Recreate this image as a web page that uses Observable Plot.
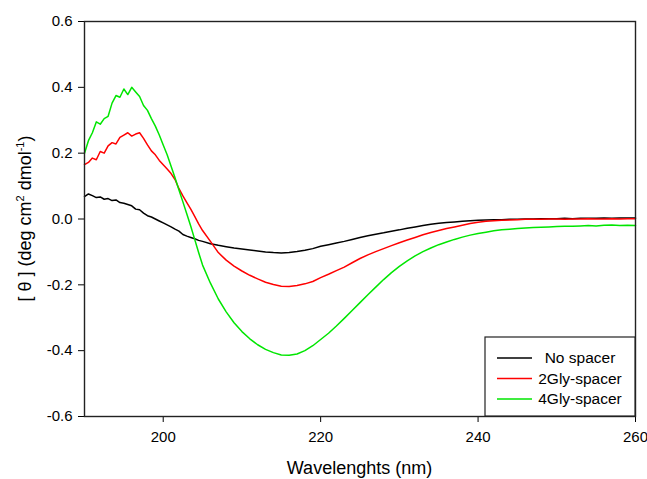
<!DOCTYPE html>
<html><head><meta charset="utf-8">
<script src="https://cdn.jsdelivr.net/npm/d3@7"></script>
<script src="https://cdn.jsdelivr.net/npm/@observablehq/plot@0.6"></script>
<style>body{margin:0;background:#fff;} svg{display:block}</style>
</head><body><div id="chart"></div>
<script>
const wavelengths = [190,190.5,191,191.5,192,192.5,193,193.5,194,194.5,195,195.5,196,196.5,197,197.5,198,198.5,199,199.5,200,200.5,201,201.5,202,202.5,203,203.5,204,204.5,205,
206,207,208,209,210,211,212,213,214,215,216,217,218,219,220,221,222,223,224,225,226,227,228,229,230,231,232,233,234,235,236,237,238,239,240,241,242,243,244,245,246,247,248,249,250,251,252,253,254,255,256,257,258,259,260];
const noSpacer = [0.068,0.076,0.071,0.065,0.067,0.060,0.062,0.056,0.058,0.050,0.048,0.044,0.040,0.030,0.028,0.018,0.010,0.006,0.000,-0.006,-0.012,-0.018,-0.024,-0.031,-0.037,-0.047,-0.052,-0.056,-0.060,-0.065,-0.068,
-0.075,-0.080,-0.084,-0.088,-0.091,-0.094,-0.097,-0.100,-0.102,-0.103,-0.102,-0.099,-0.095,-0.090,-0.083,-0.078,-0.073,-0.068,-0.062,-0.056,-0.051,-0.046,-0.042,-0.037,-0.033,-0.028,-0.024,-0.020,-0.016,-0.013,-0.011,-0.009,-0.007,-0.005,-0.004,-0.003,-0.002,-0.002,-0.001,-0.001,0.000,0.000,0.001,0.001,0.001,0.002,0.001,0.002,0.002,0.002,0.003,0.002,0.003,0.003,0.003];
const gly2 = [0.165,0.172,0.185,0.180,0.205,0.200,0.222,0.232,0.228,0.248,0.255,0.262,0.252,0.258,0.262,0.245,0.225,0.207,0.195,0.178,0.165,0.152,0.138,0.120,0.092,0.070,0.050,0.030,0.008,-0.015,-0.035,
-0.068,-0.102,-0.125,-0.143,-0.158,-0.171,-0.182,-0.192,-0.199,-0.204,-0.205,-0.202,-0.197,-0.190,-0.178,-0.168,-0.157,-0.146,-0.133,-0.120,-0.109,-0.099,-0.090,-0.081,-0.072,-0.064,-0.056,-0.048,-0.041,-0.035,-0.029,-0.024,-0.019,-0.014,-0.010,-0.007,-0.005,-0.004,-0.003,-0.002,-0.001,-0.001,-0.001,0.000,0.000,-0.001,0.000,0.000,0.001,0.000,0.000,0.001,0.000,0.001,0.001];
const gly4 = [0.200,0.238,0.262,0.295,0.288,0.305,0.312,0.352,0.375,0.370,0.395,0.378,0.400,0.386,0.372,0.345,0.330,0.305,0.282,0.255,0.225,0.195,0.160,0.125,0.088,0.052,0.015,-0.022,-0.062,-0.102,-0.140,
-0.195,-0.243,-0.282,-0.315,-0.342,-0.364,-0.382,-0.396,-0.406,-0.413,-0.414,-0.410,-0.400,-0.385,-0.366,-0.347,-0.325,-0.302,-0.278,-0.254,-0.230,-0.207,-0.184,-0.163,-0.144,-0.127,-0.112,-0.099,-0.088,-0.078,-0.070,-0.062,-0.055,-0.049,-0.044,-0.040,-0.036,-0.033,-0.031,-0.029,-0.027,-0.026,-0.025,-0.024,-0.023,-0.022,-0.022,-0.021,-0.020,-0.021,-0.019,-0.018,-0.020,-0.019,-0.020];
const seriesNames = ["No spacer", "2Gly-spacer", "4Gly-spacer"];
const seriesColors = ["#000000", "#ff0000", "#00e600"];
const xTicks = [200, 220, 240, 260];
const yTicks = [-0.6, -0.4, -0.2, 0, 0.2, 0.4, 0.6];
const xTitle = "Wavelenghts (nm)";

const seriesValues = [noSpacer, gly2, gly4];
const rows = seriesNames.flatMap((name, i) => wavelengths.map((w, j) => ({w, v: seriesValues[i][j], s: name})));

const W = 647, H = 479, mL = 84, mR = 12, mT = 21, mB = 63;
const plot = Plot.plot({
  width: W, height: H, marginLeft: mL, marginRight: mR, marginTop: mT, marginBottom: mB,
  style: {fontFamily: "'Liberation Sans', Arial, sans-serif", fontSize: "15px", background: "#fff", color: "#000"},
  x: {domain: [190, 260], ticks: xTicks, tickSize: 6, tickPadding: 9, label: null},
  y: {domain: [-0.6, 0.6], ticks: yTicks, tickSize: 6, tickPadding: 6, tickFormat: d => d.toFixed(1), label: null},
  color: {domain: seriesNames, range: seriesColors},
  marks: [
    Plot.line(rows, {x: "w", y: "v", stroke: "s", z: "s", strokeWidth: 1.5}),
    Plot.frame({stroke: "#222", strokeWidth: 1.4})
  ]
});
document.getElementById("chart").appendChild(plot);

const svg = d3.select(plot);
const ff = "'Liberation Sans', Arial, sans-serif";
// x title
svg.append("text").attr("x", (mL + W - mR) / 2).attr("y", 474).attr("text-anchor", "middle")
  .attr("font-family", ff).attr("font-size", 18).attr("fill", "#000").text(xTitle);
// y title with superscripts
const yt = svg.append("text").attr("transform", `translate(31,${(mT + H - mB) / 2}) rotate(-90)`)
  .attr("text-anchor", "middle").attr("font-family", ff).attr("font-size", 18).attr("fill", "#000");
yt.append("tspan").text("[ θ ] (deg cm");
yt.append("tspan").attr("font-size", 11).attr("dy", -7).text("2");
yt.append("tspan").attr("dy", 7).text(" dmol");
yt.append("tspan").attr("font-size", 11).attr("dy", -7).text("-1");
yt.append("tspan").attr("dy", 7).text(")");

// legend
const lg = svg.append("g");
lg.append("rect").attr("x", 485).attr("y", 337).attr("width", W - mR - 485).attr("height", H - mB - 337)
  .attr("fill", "#fff").attr("stroke", "#222").attr("stroke-width", 1.2);
seriesNames.forEach((name, i) => {
  const y = 358 + i * 20.5;
  lg.append("line").attr("x1", 497).attr("x2", 532).attr("y1", y).attr("y2", y)
    .attr("stroke", seriesColors[i]).attr("stroke-width", 1.5);
  lg.append("text").attr("x", 580).attr("y", y).attr("dy", "0.35em").attr("text-anchor", "middle")
    .attr("font-family", ff).attr("font-size", 15.5).attr("fill", "#000").text(name);
});
</script></body></html>
